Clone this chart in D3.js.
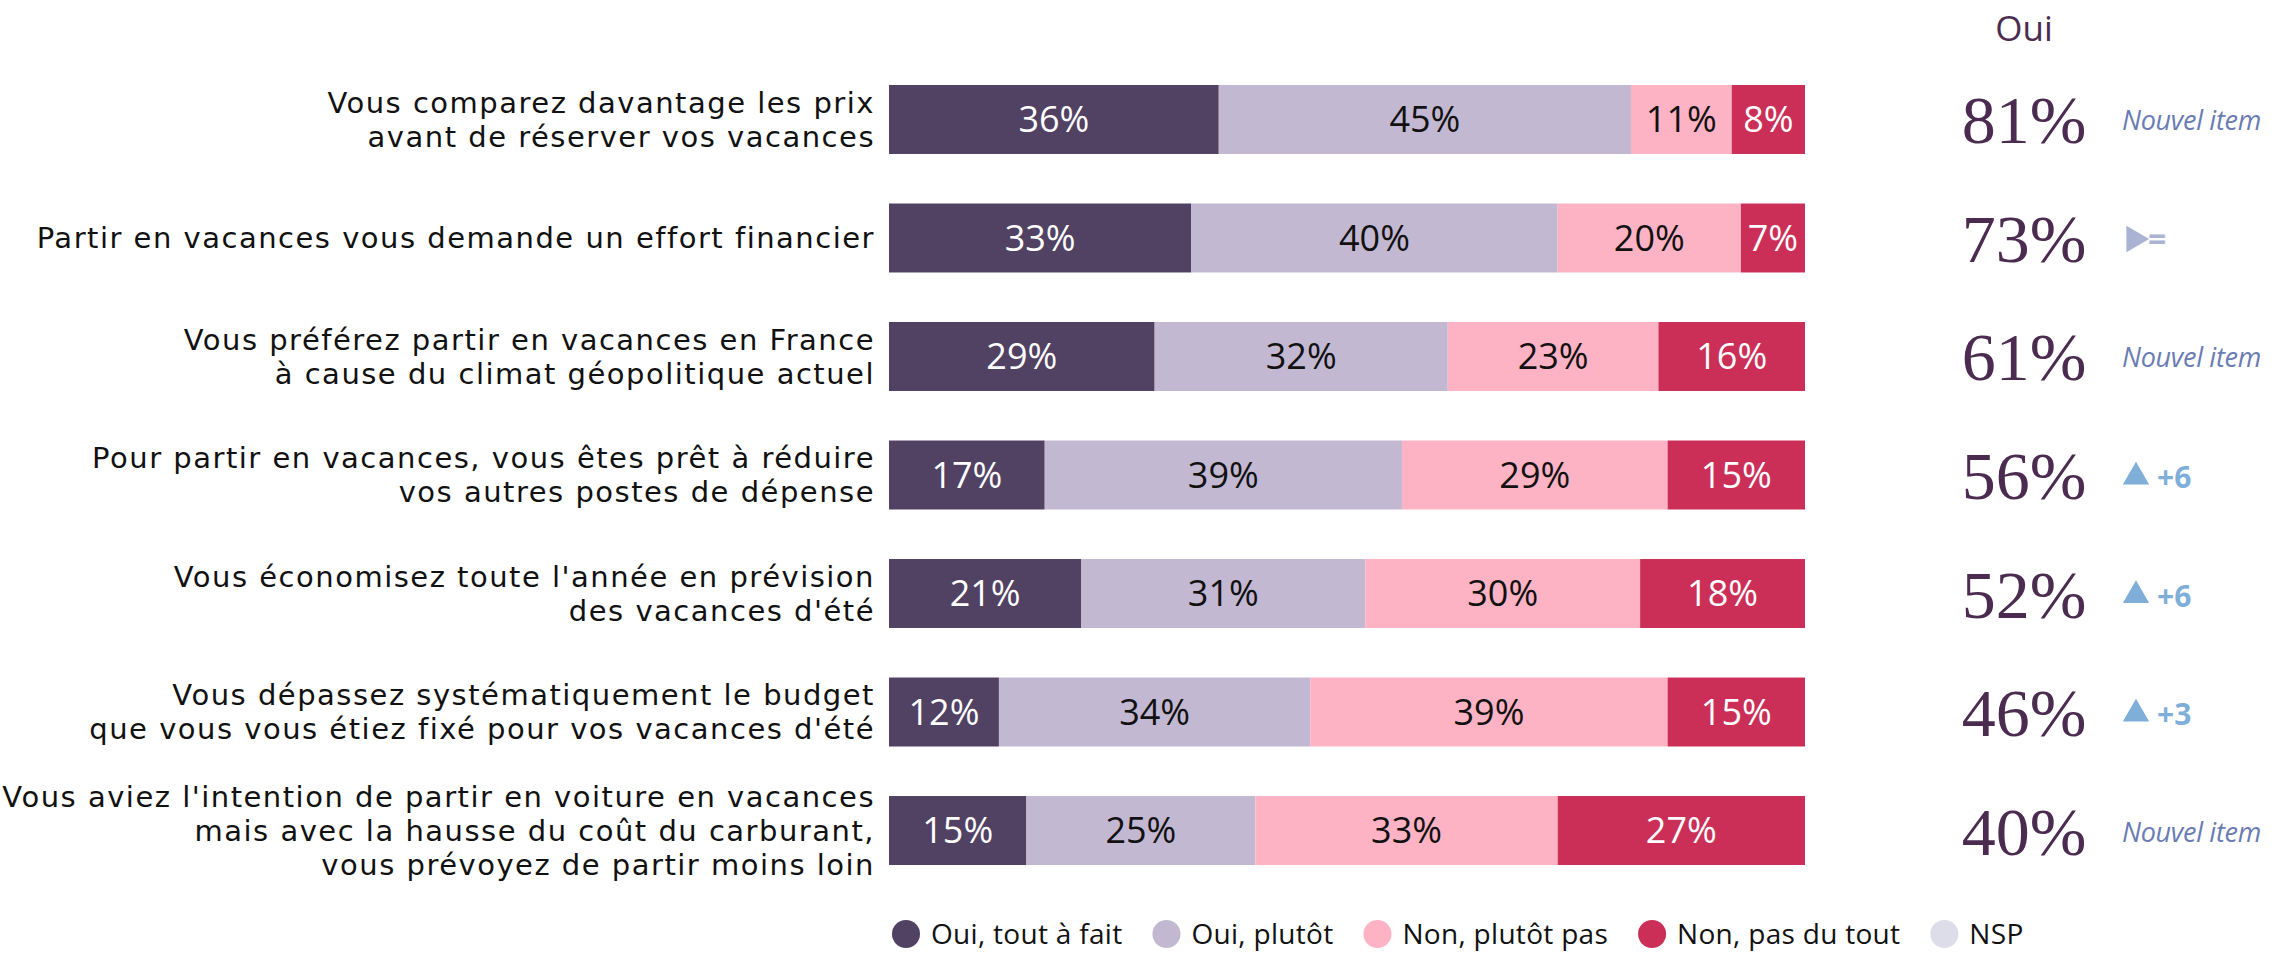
<!DOCTYPE html>
<html>
<head>
<meta charset="utf-8">
<script src="https://cdn.jsdelivr.net/npm/d3@7"></script>
<style>
  html, body { margin: 0; padding: 0; background: #fff; }
  svg { display: block; }
</style>
</head>
<body>
<div id="chart"></div>
<script>
const width = 2295;
const height = 953;

// libellés des items (une entrée par ligne de texte)
const items = [
    ["Vous comparez davantage les prix", "avant de réserver vos vacances"],
    ["Partir en vacances vous demande un effort financier"],
    ["Vous préférez partir en vacances en France", "à cause du climat géopolitique actuel"],
    ["Pour partir en vacances, vous êtes prêt à réduire", "vos autres postes de dépense"],
    ["Vous économisez toute l'année en prévision", "des vacances d'été"],
    ["Vous dépassez systématiquement le budget", "que vous vous étiez fixé pour vos vacances d'été"],
    ["Vous aviez l'intention de partir en voiture en vacances", "mais avec la hausse du coût du carburant,", "vous prévoyez de partir moins loin"]
];

const ouiToutAFait = [36, 33, 29, 17, 21, 12, 15];
const ouiPlutot = [45, 40, 32, 39, 31, 34, 25];
const nonPlutotPas = [11, 20, 23, 29, 30, 39, 33];
const nonPasDuTout = [8, 7, 16, 15, 18, 15, 27];
const nsp = [0, 0, 0, 0, 0, 0, 0];

const ouiTotal = [81, 73, 61, 56, 52, 46, 40];
const evolution = ["Nouvel item", "=", "Nouvel item", "+6", "+6", "+3", "Nouvel item"];

const seriesNames = ["Oui, tout à fait", "Oui, plutôt", "Non, plutôt pas", "Non, pas du tout", "NSP"];
const colors = ["#514163", "#c3b8d1", "#feb3c4", "#cb2f58", "#dcdde9"];
const textColors = ["#fff", "#111", "#111", "#fff", "#111"];

const rows = items.map((lines, i) => ({
    id: i,
    "Oui, tout à fait": ouiToutAFait[i],
    "Oui, plutôt": ouiPlutot[i],
    "Non, plutôt pas": nonPlutotPas[i],
    "Non, pas du tout": nonPasDuTout[i],
    "NSP": nsp[i]
}));

const stacked = d3.stack().keys(seriesNames)(rows);

const x = d3.scaleLinear().domain([0, 100]).range([889, 1805]);
const y = d3.scaleBand().domain(d3.range(items.length)).range([85, 865]).paddingInner(0.418).paddingOuter(0);
const color = d3.scaleOrdinal().domain(seriesNames).range(colors);
const textColor = d3.scaleOrdinal().domain(seriesNames).range(textColors);

const sans = "'Open Sans', 'Noto Sans', sans-serif";

let svg = d3.select("#chart")
    .append("svg")
        .attr("width", width)
        .attr("height", height);

// barres empilées
const layer = svg.selectAll("g.layer")
    .data(stacked)
    .join("g")
        .attr("class", "layer")
        .attr("fill", d => color(d.key));

layer.selectAll("rect")
    .data(d => d.filter(s => s[1] - s[0] > 0))
    .join("rect")
        .attr("x", d => x(d[0]))
        .attr("y", d => y(d.data.id))
        .attr("width", d => x(d[1]) - x(d[0]))
        .attr("height", y.bandwidth());

layer.selectAll("text")
    .data(d => d.filter(s => s[1] - s[0] > 0).map(s => Object.assign(s, { key: d.key })))
    .join("text")
        .attr("x", d => (x(d[0]) + x(d[1])) / 2)
        .attr("y", d => y(d.data.id) + y.bandwidth() / 2)
        .attr("dy", "0.36em")
        .attr("text-anchor", "middle")
        .attr("fill", d => textColor(d.key))
        .style("font-family", sans)
        .style("font-size", "36px")
        .text(d => (d[1] - d[0]) + "%");

// libellés à gauche
const lineHeight = 34;
svg.append("g")
    .selectAll("text")
    .data(items)
    .join("text")
        .attr("text-anchor", "end")
        .attr("fill", "#111")
        .style("font-family", "'DejaVu Sans', sans-serif")
        .style("font-size", "29px")
        .style("letter-spacing", "1.5px")
        .each(function(lines, i) {
            const cy = y(i) + y.bandwidth() / 2;
            const top = cy - (lines.length - 1) * lineHeight / 2;
            d3.select(this).selectAll("tspan")
                .data(lines)
                .join("tspan")
                    .attr("x", 875)
                    .attr("y", (_, j) => top + j * lineHeight)
                    .attr("dy", "0.36em")
                    .text(l => l);
        });

// colonne "Oui"
svg.append("text")
    .attr("x", 2024)
    .attr("y", 41)
    .attr("text-anchor", "middle")
    .attr("fill", "#4b2c50")
    .style("font-family", sans)
    .style("font-size", "35px")
    .text("Oui");

svg.append("g")
    .selectAll("text")
    .data(ouiTotal)
    .join("text")
        .attr("x", 2024)
        .attr("y", (_, i) => y(i) + y.bandwidth() / 2 + 24)
        .attr("text-anchor", "middle")
        .attr("fill", "#4b2c50")
        .style("font-family", "'Liberation Serif', 'DejaVu Serif', serif")
        .style("font-size", "68px")
        .text(d => d + "%");

// évolutions
const evo = svg.append("g")
    .selectAll("g")
    .data(evolution)
    .join("g")
        .attr("transform", (_, i) => `translate(2122, ${y(i) + y.bandwidth() / 2})`);

evo.filter(d => d === "Nouvel item")
    .append("text")
        .attr("y", 11)
        .attr("fill", "#6a7cb3")
        .style("font-family", sans)
        .style("font-style", "italic")
        .style("font-size", "27px")
        .style("letter-spacing", "-0.3px")
        .text(d => d);

evo.filter(d => d === "=")
    .call(g => g.append("path")
        .attr("d", d3.symbol(d3.symbolTriangle, 300))
        .attr("transform", "translate(12, 1) rotate(90)")
        .attr("fill", "#aab3d3"))
    .call(g => g.append("text")
        .attr("x", 26)
        .attr("y", 13)
        .attr("fill", "#aab3d3")
        .style("font-family", sans)
        .style("font-weight", "bold")
        .style("font-size", "32px")
        .text("="));

evo.filter(d => d.startsWith("+"))
    .call(g => g.append("path")
        .attr("d", d3.symbol(d3.symbolTriangle, 300))
        .attr("transform", "translate(14, 2)")
        .attr("fill", "#7fafd9"))
    .call(g => g.append("text")
        .attr("x", 35)
        .attr("y", 13)
        .attr("fill", "#7fafd9")
        .style("font-family", sans)
        .style("font-weight", "bold")
        .style("font-size", "30px")
        .text(d => d));

// légende
const legend = svg.append("g").attr("transform", "translate(892, 934)");
let lx = 0;
seriesNames.forEach((name, i) => {
    const item = legend.append("g").attr("transform", `translate(${lx}, 0)`);
    item.append("circle")
        .attr("cx", 14)
        .attr("r", 14)
        .attr("fill", color(name));
    const t = item.append("text")
        .attr("x", 39)
        .attr("dy", "0.36em")
        .attr("fill", "#111")
        .style("font-family", sans)
        .style("font-size", "28px")
        .style("letter-spacing", "0.3px")
        .text(name);
    lx += 39 + t.node().getComputedTextLength() + 30;
});
</script>
</body>
</html>
